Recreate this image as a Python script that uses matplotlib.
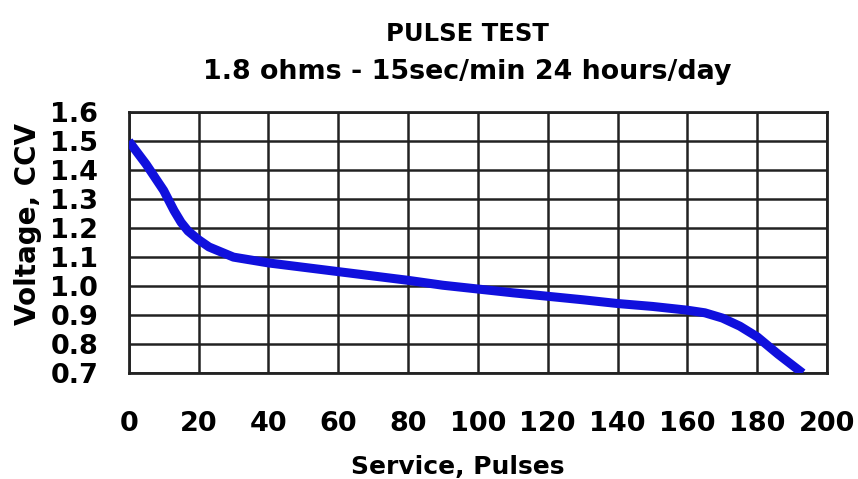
import numpy as np
import matplotlib.pyplot as plt

# values
pulses = [0, 5, 10, 13, 15, 17, 20, 23, 26, 30, 35, 40, 50, 60, 70, 80, 90, 100, 110, 120, 130, 140, 150, 160, 165, 170, 175, 180, 186, 193]
voltage = [1.50, 1.42, 1.33, 1.26, 1.22, 1.19, 1.16, 1.135, 1.12, 1.10, 1.09, 1.08, 1.065, 1.05, 1.035, 1.02, 1.003, 0.99, 0.977, 0.965, 0.953, 0.94, 0.93, 0.917, 0.908, 0.89, 0.862, 0.825, 0.765, 0.70]

xticks = np.arange(0, 201, 20)
yticks = np.round(np.arange(0.7, 1.61, 0.1), 1)

fig = plt.figure(figsize=(8.58, 4.79), dpi=100)
ax = fig.add_axes([0.150, 0.221, 0.814, 0.545])

ax.plot(pulses, voltage, color='#1010dd', linewidth=6.5, solid_capstyle='butt',
        solid_joinstyle='round', zorder=3)

ax.set_xlim(0, 200)
ax.set_ylim(0.7, 1.6)
ax.set_xticks(xticks)
ax.set_yticks(yticks)
ax.set_xticklabels([str(v) for v in xticks], fontsize=19.5, fontweight='bold')
ax.set_yticklabels([f"{v:.1f}" for v in yticks], fontsize=19.5, fontweight='bold')
ax.tick_params(length=0)
ax.tick_params(axis='x', pad=27)
ax.tick_params(axis='y', pad=22)
ax.grid(True, color='#222222', linewidth=1.8)
for s in ax.spines.values():
    s.set_linewidth(2)
    s.set_color('#222222')

fig.text(0.533, 0.025, 'Service, Pulses', ha='center', va='center', fontsize=18, fontweight='bold')
fig.text(0.033, 0.532, 'Voltage, CCV', ha='center', va='center', rotation=90, fontsize=20, fontweight='bold')
fig.text(0.545, 0.915, 'PULSE TEST', ha='center', fontsize=17.5, fontweight='bold')
fig.text(0.545, 0.835, '1.8 ohms - 15sec/min 24 hours/day', ha='center', fontsize=19.4, fontweight='bold')

fig.savefig('out.png', dpi=100)
